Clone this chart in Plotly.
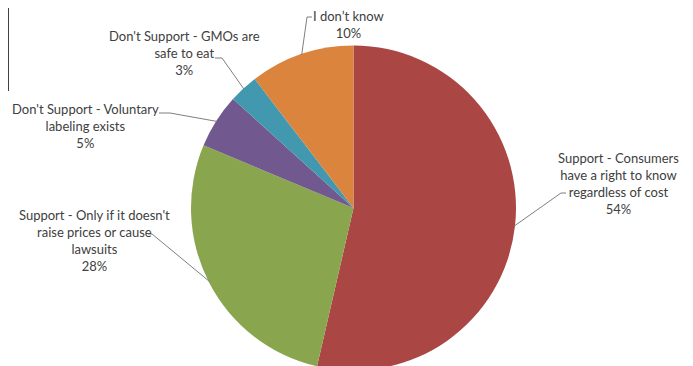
import math
import plotly.graph_objects as go

# ---- data ----
labels = [
    "Support - Consumers<br>have a right to know<br>regardless of cost",
    "Support - Only if it doesn't<br>raise prices or cause<br>lawsuits",
    "Don't Support - Voluntary<br>labeling exists",
    "Don't Support - GMOs are<br>safe to eat",
    "I don’t know",
]
values = [53.6, 27.7, 5.4, 2.9, 10.4]
colors = ["#AA4643", "#89A54E", "#71588F", "#4198AF", "#DB843D"]

W, H = 693, 366
OFF = 8  # page body margin: window coordinate = figure coordinate + OFF
CX, CY, R = 353.5, 208, 162.5  # pie geometry in window pixels (layout)

def px(x):
    return (x - OFF) / W

def py(y):
    return 1 - (y - OFF) / H

fig = go.Figure()
fig.add_trace(go.Pie(
    labels=labels,
    values=values,
    sort=False,
    direction="clockwise",
    rotation=0,
    marker=dict(colors=colors, line=dict(width=0)),
    textinfo="none",
    hoverinfo="label+percent",
    showlegend=False,
    domain=dict(x=[px(CX - R), px(CX + R)], y=[py(CY + R), py(CY - R)]),
))

# label layout: text centre and leader start, in window pixels
label_pos = [
    dict(tx=618, ty=183, lx=[566, 561], ly=193),
    dict(tx=94, ty=240, lx=[148, 152], ly=234),
    dict(tx=85, ty=126, lx=[159, 170], ly=113),
    dict(tx=184, ty=53, lx=[215, 222], ly=58),
    dict(tx=348, ty=24, lx=[312, 307], ly=17),
]

total = sum(values)
cum = 0
for i, (lab, v) in enumerate(zip(labels, values)):
    mid = (cum + v / 2) / total * 2 * math.pi
    cum += v
    ex = CX + (R - 1) * math.sin(mid)
    ey = CY - (R - 1) * math.cos(mid)
    p = label_pos[i]
    pct = round(v / total * 100)
    fig.add_annotation(
        x=px(p["tx"]), y=py(p["ty"]), xref="paper", yref="paper",
        text=f"{lab}<br>{pct}%", showarrow=False, align="center",
        xanchor="center", yanchor="middle",
        font=dict(family="Lato, 'Liberation Sans', sans-serif", size=13, color="#404040"),
    )
    x0, x1 = p["lx"]
    yl = p["ly"]
    fig.add_shape(
        type="path", xref="paper", yref="paper",
        path=f"M {px(x0)} {py(yl)} L {px(x1)} {py(yl)} L {px(ex)} {py(ey)}",
        line=dict(color="#7F7F7F", width=1),
    )

# fragment of a box at the top-left edge
fig.add_shape(
    type="path", xref="paper", yref="paper",
    path=f"M {px(8.5)} {py(0)} L {px(8.5)} {py(91)}",
    line=dict(color="#404040", width=1),
)

fig.update_layout(
    width=W, height=H,
    margin=dict(l=0, r=0, t=0, b=0),
    paper_bgcolor="white", plot_bgcolor="white",
)

fig.write_html("out.html")
